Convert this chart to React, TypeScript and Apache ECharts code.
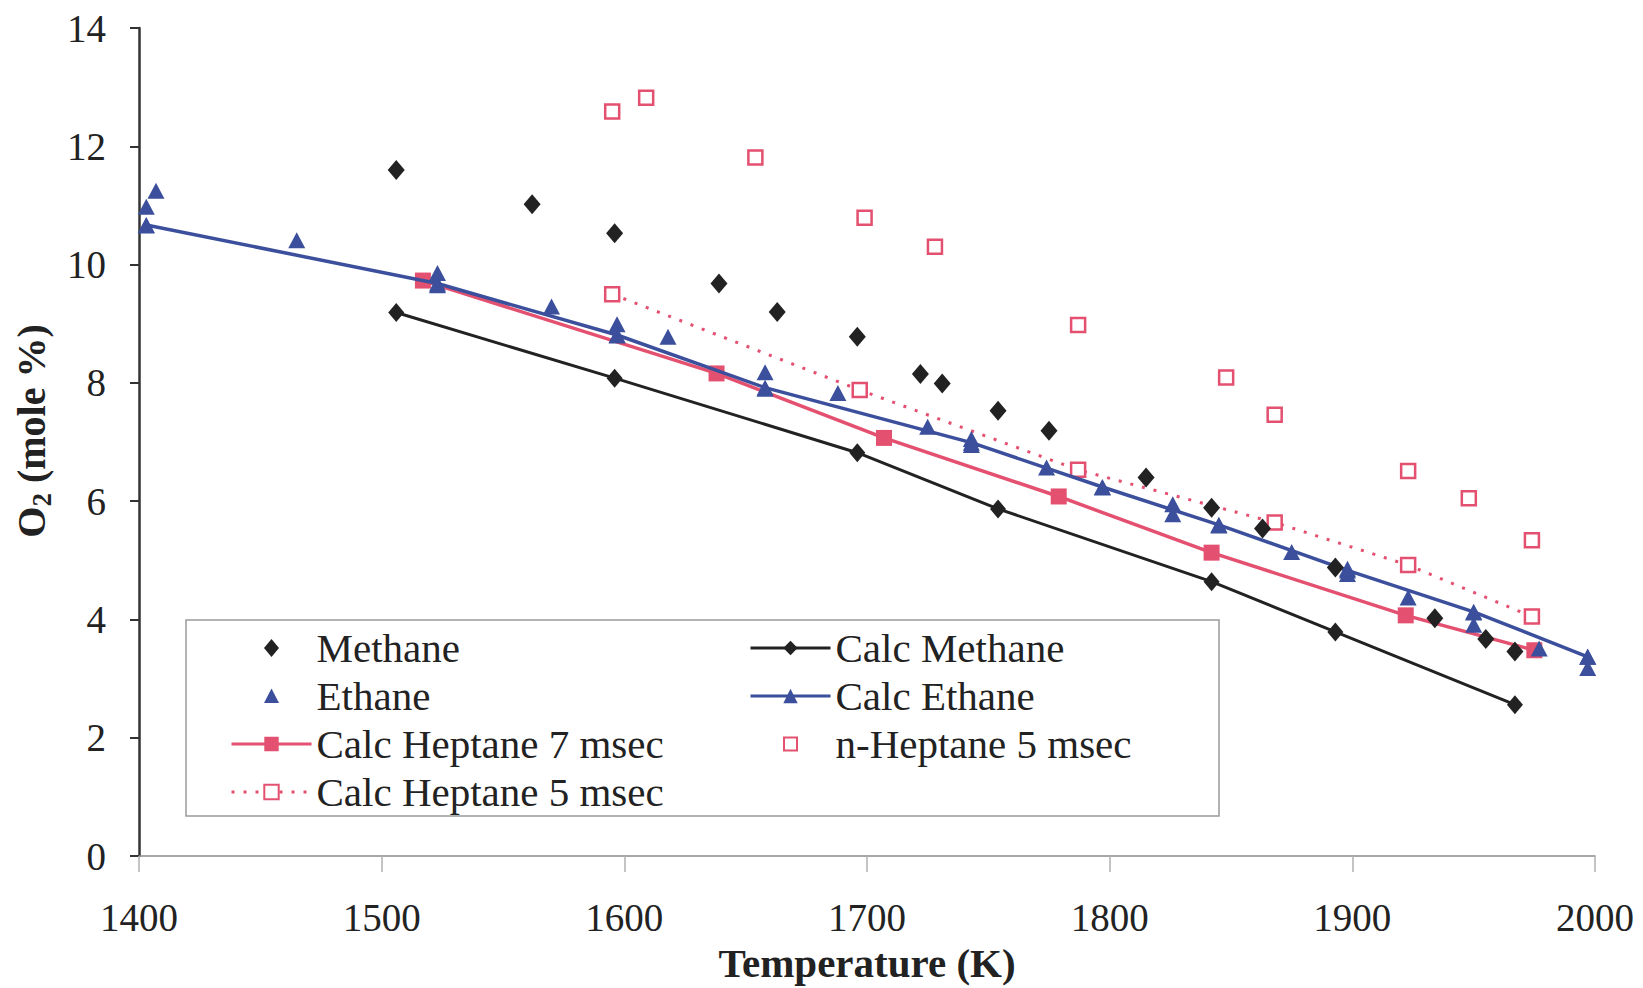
import React, { useEffect, useRef } from "react";
import * as echarts from "echarts";

// Measured O2 (mole %) versus temperature (K)
const methaneT = [1506, 1562, 1596, 1639, 1663, 1696, 1722, 1731, 1754, 1775, 1815, 1842, 1863, 1893, 1934, 1955, 1967];
const methaneO2 = [11.6, 11.02, 10.53, 9.68, 9.2, 8.78, 8.15, 7.99, 7.53, 7.19, 6.4, 5.89, 5.54, 4.88, 4.02, 3.67, 3.46];

const calcMethaneT = [1506, 1596, 1696, 1754, 1842, 1893, 1967];
const calcMethaneO2 = [9.19, 8.08, 6.82, 5.87, 4.64, 3.79, 2.56];

const ethaneT = [1403, 1407, 1403, 1465, 1523, 1523, 1570, 1597, 1597, 1618, 1658, 1658, 1688, 1725, 1743, 1743, 1774, 1797, 1826, 1826, 1845, 1875, 1898, 1898, 1923, 1950, 1950, 1977, 1997, 1997];
const ethaneO2 = [10.98, 11.25, 10.66, 10.41, 9.86, 9.65, 9.29, 8.99, 8.8, 8.78, 8.18, 7.9, 7.83, 7.26, 7.05, 6.95, 6.57, 6.23, 5.95, 5.78, 5.59, 5.14, 4.86, 4.77, 4.37, 4.12, 3.91, 3.51, 3.37, 3.18];

const calcEthaneT = [1403, 1523, 1597, 1658, 1743, 1797, 1845, 1898, 1950, 1997];
const calcEthaneO2 = [10.67, 9.68, 8.81, 7.92, 6.99, 6.24, 5.6, 4.83, 4.13, 3.37];

const calcHep7T = [1517, 1638, 1707, 1779, 1842, 1922, 1975];
const calcHep7O2 = [9.73, 8.16, 7.07, 6.08, 5.13, 4.07, 3.48];

const nHep5T = [1595, 1609, 1654, 1699, 1728, 1787, 1848, 1868, 1923, 1948, 1974];
const nHep5O2 = [12.59, 12.82, 11.81, 10.79, 10.3, 8.98, 8.09, 7.46, 6.51, 6.05, 5.34];

const calcHep5T = [1595, 1697, 1787, 1868, 1923, 1974];
const calcHep5O2 = [9.5, 7.88, 6.53, 5.64, 4.92, 4.05];

const xTicks = [1400, 1500, 1600, 1700, 1800, 1900, 2000];
const yTicks = [0, 2, 4, 6, 8, 10, 12, 14];

const BLACK = "#222222";
const BLUE = "#3b4f9c";
const PINK = "#e4506f";
const FONT = "'Liberation Serif', 'Times New Roman', serif";

// Legend icons for marker-only series: a marker centred in the 80x18 icon box
// (the leading moves pin the box so the marker keeps its own proportions).
const ICON_DIAMOND = "path://M0 0 M80 18 M40 0 L47.5 9 L40 18 L32.5 9 Z";
const ICON_TRIANGLE = "path://M0 0 M80 18 M40 1.5 L47.5 16 L32.5 16 Z";
const ICON_SQUARE = "path://M0 0 M80 18 M33.5 2.5 L46.5 2.5 L46.5 15.5 L33.5 15.5 Z";

const pairs = (xs: number[], ys: number[]) => xs.map((x, i) => [x, ys[i]]);

export default function App() {
  const ref = useRef<HTMLDivElement>(null);

  useEffect(() => {
    if (!ref.current) return;
    const chart = echarts.init(ref.current, null, { renderer: "svg" });

    const legendText = { fontFamily: FONT, fontSize: 41, color: BLACK, lineHeight: 48 };
    const legendCommon = {
      orient: "vertical",
      top: 619,
      itemWidth: 80,
      itemHeight: 18,
      itemGap: 0,
      textStyle: legendText,
      lineStyle: { width: 3 },
    };

    chart.setOption({
      animation: false,
      backgroundColor: "#ffffff",
      grid: { left: 139, top: 28, right: 48, bottom: 128, containLabel: false },
      xAxis: {
        type: "value",
        min: xTicks[0],
        max: xTicks[xTicks.length - 1],
        interval: 100,
        name: "Temperature (K)",
        nameLocation: "middle",
        nameGap: 83,
        nameTextStyle: { fontFamily: FONT, fontSize: 41, fontWeight: "bold", color: BLACK },
        axisLine: { show: true, onZero: false, lineStyle: { color: "#8a8a8a", width: 1.5 } },
        axisTick: { show: true, inside: false, length: 16, lineStyle: { color: "#b0b0b0", width: 1.5 } },
        axisLabel: { fontFamily: FONT, fontSize: 39, color: BLACK, margin: 42, formatter: (v: number) => String(v) },
        splitLine: { show: false },
      },
      yAxis: {
        type: "value",
        min: yTicks[0],
        max: yTicks[yTicks.length - 1],
        interval: 2,
        axisLine: { show: true, lineStyle: { color: "#333333", width: 2.5 } },
        axisTick: { show: true, inside: false, length: 9, lineStyle: { color: "#333333", width: 2 } },
        axisLabel: { fontFamily: FONT, fontSize: 39, color: BLACK, margin: 33, formatter: (v: number) => String(v) },
        splitLine: { show: false },
      },
      legend: [
        {
          ...legendCommon,
          left: 225,
          data: [
            { name: "Methane", icon: ICON_DIAMOND },
            { name: "Ethane", icon: ICON_TRIANGLE },
            "Calc Heptane 7 msec",
            "Calc Heptane 5 msec",
          ],
        },
        {
          ...legendCommon,
          left: 744,
          data: ["Calc Methane", "Calc Ethane", { name: "n-Heptane 5 msec", icon: ICON_SQUARE }],
        },
      ],
      graphic: [
        {
          type: "rect",
          shape: { x: 186, y: 620, width: 1033, height: 196 },
          style: { fill: "none", stroke: "#9a9a9a", lineWidth: 1.5 },
          z: 0,
        },
        {
          type: "text",
          x: 31,
          y: 431,
          rotation: Math.PI / 2,
          style: {
            text: "{a|O}{b|2}{a| (mole %)}",
            align: "center",
            verticalAlign: "middle",
            fill: BLACK,
            rich: {
              a: { fontFamily: FONT, fontSize: 40, fontWeight: "bold", lineHeight: 48, fill: BLACK },
              b: { fontFamily: FONT, fontSize: 27, fontWeight: "bold", lineHeight: 20, verticalAlign: "bottom", fill: BLACK },
            },
          },
        },
      ],
      series: [
        {
          name: "Calc Methane",
          type: "line",
          data: pairs(calcMethaneT, calcMethaneO2),
          symbol: "diamond",
          symbolSize: [16, 19],
          lineStyle: { color: BLACK, width: 3 },
          itemStyle: { color: BLACK },
          z: 3,
        },
        {
          name: "Calc Ethane",
          type: "line",
          data: pairs(calcEthaneT, calcEthaneO2),
          symbol: "triangle",
          symbolSize: [17, 16],
          lineStyle: { color: BLUE, width: 3.5 },
          itemStyle: { color: BLUE },
          z: 4,
        },
        {
          name: "Calc Heptane 7 msec",
          type: "line",
          data: pairs(calcHep7T, calcHep7O2),
          symbol: "rect",
          symbolSize: 16,
          lineStyle: { color: PINK, width: 3.5 },
          itemStyle: { color: PINK },
          z: 3,
        },
        {
          name: "Calc Heptane 5 msec",
          type: "line",
          data: pairs(calcHep5T, calcHep5O2),
          symbol: "rect",
          symbolSize: 14,
          lineStyle: { color: PINK, width: 3, type: [3, 9] },
          itemStyle: { color: "#ffffff", borderColor: PINK, borderWidth: 2.5 },
          z: 3,
        },
        {
          name: "Methane",
          type: "scatter",
          data: pairs(methaneT, methaneO2),
          symbol: "diamond",
          symbolSize: [17, 20],
          itemStyle: { color: BLACK, opacity: 1 },
          z: 5,
        },
        {
          name: "Ethane",
          type: "scatter",
          data: pairs(ethaneT, ethaneO2),
          symbol: "triangle",
          symbolSize: [17, 16],
          itemStyle: { color: BLUE, opacity: 1 },
          z: 5,
        },
        {
          name: "n-Heptane 5 msec",
          type: "scatter",
          data: pairs(nHep5T, nHep5O2),
          symbol: "rect",
          symbolSize: 14,
          itemStyle: { color: "#ffffff", borderColor: PINK, borderWidth: 2.5, opacity: 1 },
          z: 5,
        },
      ],
    });

    return () => chart.dispose();
  }, []);

  return (
    <div
      ref={ref}
      style={{ position: "fixed", left: 0, top: 0, width: 1643, height: 988, background: "#ffffff" }}
    />
  );
}
